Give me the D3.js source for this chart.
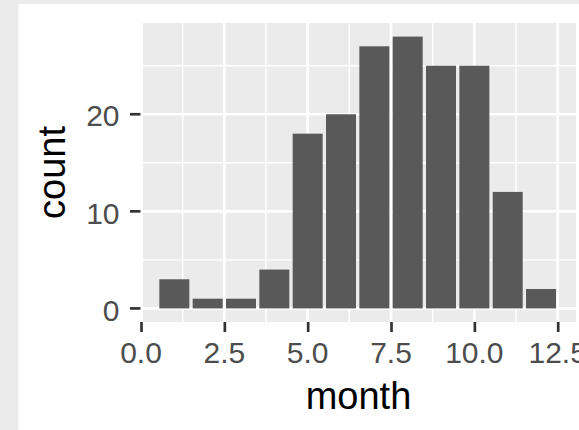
<!DOCTYPE html>
<html>
<head>
<meta charset="utf-8">
<script src="https://cdn.jsdelivr.net/npm/d3@7"></script>
<style>
  html, body { margin: 0; padding: 0; background: #ebebeb; }
  svg { display: block; }
</style>
</head>
<body>
<svg id="chart" width="579" height="430"></svg>
<script>
// ---- data ----
const months = [1, 2, 3, 4, 5, 6, 7, 8, 9, 10, 11, 12];
const counts = [3, 1, 1, 4, 18, 20, 27, 28, 25, 25, 12, 2];
const xTicks = [0, 2.5, 5, 7.5, 10, 12.5];
const xTickLabels = ["0.0", "2.5", "5.0", "7.5", "10.0", "12.5"];
const xMinor = [1.25, 3.75, 6.25, 8.75, 11.25];
const yTicks = [0, 10, 20];
const yTickLabels = ["0", "10", "20"];
const yMinor = [5, 15, 25];
const barWidth = 0.9;

// ---- layout ----
const W = 579, H = 430;
const panel = { left: 143, right: 576, top: 23, bottom: 322 };
const font = "'Liberation Sans', Arial, Helvetica, sans-serif";

const svg = d3.select("#chart");

svg.append("rect").attr("x", 0).attr("y", 0).attr("width", W).attr("height", H).attr("fill", "#ebebeb");
svg.append("rect").attr("x", 18.5).attr("y", 4).attr("width", W - 18.5).attr("height", H - 4).attr("fill", "#ffffff");

const x = d3.scaleLinear().domain([0, 12.5]).range([141, 557.7]);
const y = d3.scaleLinear().domain([-1.4, 29.4]).range([panel.bottom, panel.top]);

svg.append("defs").append("clipPath").attr("id", "pclip")
  .append("rect")
  .attr("x", panel.left).attr("y", panel.top)
  .attr("width", panel.right - panel.left).attr("height", panel.bottom - panel.top);

svg.append("rect")
  .attr("x", panel.left).attr("y", panel.top)
  .attr("width", panel.right - panel.left).attr("height", panel.bottom - panel.top)
  .attr("fill", "#ebebeb");

const g = svg.append("g").attr("clip-path", "url(#pclip)");

// minor grid
g.selectAll("line.xminor").data(xMinor).enter().append("line")
  .attr("x1", d => x(d)).attr("x2", d => x(d))
  .attr("y1", panel.top).attr("y2", panel.bottom)
  .attr("stroke", "#ffffff").attr("stroke-width", 1.4);
g.selectAll("line.yminor").data(yMinor).enter().append("line")
  .attr("y1", d => y(d)).attr("y2", d => y(d))
  .attr("x1", panel.left).attr("x2", panel.right)
  .attr("stroke", "#ffffff").attr("stroke-width", 1.4);
// major grid
g.selectAll("line.xmajor").data(xTicks).enter().append("line")
  .attr("x1", d => x(d)).attr("x2", d => x(d))
  .attr("y1", panel.top).attr("y2", panel.bottom)
  .attr("stroke", "#ffffff").attr("stroke-width", 2.7);
g.selectAll("line.ymajor").data(yTicks).enter().append("line")
  .attr("y1", d => y(d)).attr("y2", d => y(d))
  .attr("x1", panel.left).attr("x2", panel.right)
  .attr("stroke", "#ffffff").attr("stroke-width", 2.7);

// bars
g.selectAll("rect.bar").data(months).enter().append("rect")
  .attr("x", (d) => x(d - barWidth / 2))
  .attr("width", (d) => x(d + barWidth / 2) - x(d - barWidth / 2))
  .attr("y", (d, i) => y(counts[i]))
  .attr("height", (d, i) => y(0) - y(counts[i]))
  .attr("fill", "#595959");

// x axis ticks
svg.selectAll("line.xtick").data(xTicks).enter().append("line")
  .attr("x1", d => x(d) + 0.5).attr("x2", d => x(d) + 0.5)
  .attr("y1", panel.bottom).attr("y2", panel.bottom + 10)
  .attr("stroke", "#333333").attr("stroke-width", 2.7);
svg.selectAll("text.xlab").data(xTicks).enter().append("text")
  .attr("x", d => x(d)).attr("y", 363.3)
  .attr("text-anchor", "middle")
  .attr("font-family", font).attr("font-size", 30)
  .attr("fill", "#4d4d4d")
  .text((d, i) => xTickLabels[i]);

// y axis ticks
svg.selectAll("line.ytick").data(yTicks).enter().append("line")
  .attr("x1", 130).attr("x2", 140.5)
  .attr("y1", d => y(d)).attr("y2", d => y(d))
  .attr("stroke", "#333333").attr("stroke-width", 2.7);
svg.selectAll("text.ylab").data(yTicks).enter().append("text")
  .attr("x", 119.5).attr("y", d => y(d) + 12.2)
  .attr("text-anchor", "end")
  .attr("font-family", font).attr("font-size", 30)
  .attr("fill", "#4d4d4d")
  .text((d, i) => yTickLabels[i]);

// axis titles
svg.append("text")
  .attr("x", 358.5).attr("y", 409.3)
  .attr("text-anchor", "middle")
  .attr("font-family", font).attr("font-size", 38)
  .attr("fill", "#000000")
  .text("month");
svg.append("text")
  .attr("transform", "translate(65,172.5) rotate(-90)")
  .attr("text-anchor", "middle")
  .attr("font-family", font).attr("font-size", 38)
  .attr("fill", "#000000")
  .text("count");
</script>
</body>
</html>
